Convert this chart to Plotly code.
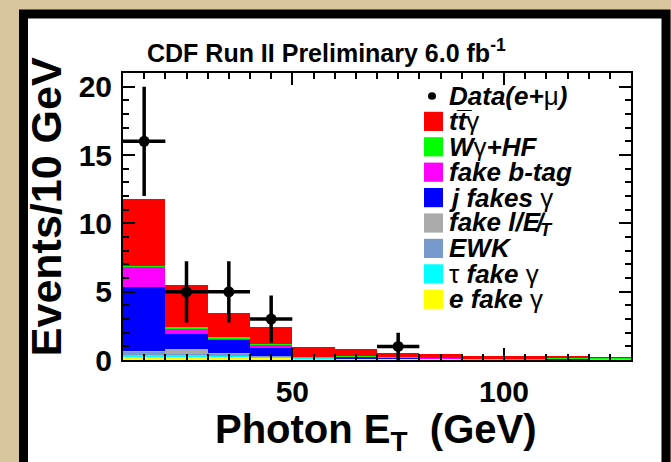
import plotly.graph_objects as go

W, H = 671, 462

# ---------------- data ----------------
bin_centers = [15, 25, 35, 45, 55, 65, 75, 85, 95, 105, 115, 125]
bin_width = 10

# stacked backgrounds, bottom -> top
e_fake_gamma   = [0.30, 0.30, 0.25, 0.20, 0.15, 0.12, 0.12, 0.10, 0.08, 0.05, 0.05, 0.08]
tau_fake_gamma = [0.08, 0.08, 0.08, 0.05, 0.02, 0.02, 0.02, 0.01, 0.01, 0.01, 0.01, 0.01]
ewk            = [0.25, 0.10, 0.15, 0.02, 0.00, 0.00, 0.00, 0.00, 0.00, 0.00, 0.00, 0.00]
fake_l_met     = [0.05, 0.35, 0.05, 0.00, 0.00, 0.00, 0.00, 0.00, 0.00, 0.00, 0.00, 0.00]
j_fakes_gamma  = [4.70, 1.05, 0.95, 0.60, 0.00, 0.10, 0.02, 0.03, 0.00, 0.00, 0.05, 0.00]
fake_btag      = [1.45, 0.45, 0.12, 0.25, 0.02, 0.03, 0.02, 0.03, 0.02, 0.02, 0.02, 0.01]
wgamma_hf      = [0.08, 0.07, 0.06, 0.03, 0.01, 0.01, 0.02, 0.02, 0.01, 0.01, 0.01, 0.08]
ttgamma        = [4.90, 3.10, 1.80, 1.25, 0.80, 0.52, 0.35, 0.25, 0.20, 0.18, 0.15, 0.05]

data_x    = [15, 25, 35, 45, 75]
data_y    = [16, 5, 5, 3, 1]
data_yerr = [4.0, 2.24, 2.24, 1.73, 1.0]
data_xerr = [5, 5, 5, 5, 5]

stack_names = ["e fake γ", "τ fake γ", "EWK", "fake l/MET", "j fakes γ",
               "fake b-tag", "Wγ+HF", "ttγ"]
stack_values = [e_fake_gamma, tau_fake_gamma, ewk, fake_l_met, j_fakes_gamma,
                fake_btag, wgamma_hf, ttgamma]
stack_colors = ["#FFFF00", "#00FFFF", "#7799CC", "#AAAAAA", "#0000FF",
                "#FF00FF", "#00FF00", "#FF0000"]
legend_labels = [
    "<b><i>e fake</i></b> γ",
    "τ<b><i> fake</i></b> γ",
    "<b><i>EWK</i></b>",
    "<b><i>fake l/E\u0338<sub>T</sub></i></b>",
    "<b><i>j fakes</i></b> γ",
    "<b><i>fake b-tag</i></b>",
    "<b><i>W</i></b>γ<b><i>+HF</i></b>",
    "<b><i>tt\u0305</i></b>γ",
]

x_range = [10, 130]
y_range = [0, 21]


def px(x):
    return x / W


def py(y):
    return 1 - y / H


FONT = "Liberation Sans, Arial, Helvetica, sans-serif"

fig = go.Figure()

for name, vals, col in zip(stack_names, stack_values, stack_colors):
    fig.add_trace(go.Bar(
        x=bin_centers, y=vals, width=bin_width, name=name,
        marker=dict(color=col, line=dict(width=0)),
        showlegend=False,
    ))

fig.add_trace(go.Scatter(
    x=data_x, y=data_y, mode="markers", name="Data(e+μ)",
    marker=dict(color="black", size=11),
    error_y=dict(type="data", array=data_yerr, color="black", thickness=3.5, width=0),
    error_x=dict(type="data", array=data_xerr, color="black", thickness=3.5, width=0),
    showlegend=False,
))

shapes = []
annotations = []

# white panel with thick black frame
shapes.append(dict(type="rect", xref="paper", yref="paper",
                   x0=px(23.5), x1=px(666), y0=py(12.5), y1=py(490),
                   line=dict(color="black", width=9), fillcolor="white",
                   layer="below"))

# manual legend (top -> bottom)
leg_x_box0, leg_x_box1 = 424, 443
leg_text_x = 447
row0 = 98
row_step = 26.5
LEG_SIZE = 26
# data entry
shapes.append(dict(type="circle", xref="paper", yref="paper",
                   x0=px(428), x1=px(436), y0=py(row0 + 4), y1=py(row0 - 4),
                   fillcolor="black", line=dict(width=0)))
annotations.append(dict(x=px(leg_text_x), y=py(row0), xref="paper", yref="paper",
                        text="<b><i>Data(e+</i></b>μ<b><i>)</i></b>",
                        showarrow=False, xanchor="left", yanchor="middle",
                        font=dict(family=FONT, size=LEG_SIZE, color="black")))
for i, (lab, col) in enumerate(zip(reversed(legend_labels), reversed(stack_colors))):
    yc = row0 + row_step * (i + 1)
    shapes.append(dict(type="rect", xref="paper", yref="paper",
                       x0=px(leg_x_box0), x1=px(leg_x_box1),
                       y0=py(yc + 10), y1=py(yc - 10),
                       fillcolor=col, line=dict(width=0)))
    annotations.append(dict(x=px(leg_text_x), y=py(yc), xref="paper", yref="paper",
                            text=lab, showarrow=False, xanchor="left", yanchor="middle",
                            font=dict(family=FONT, size=LEG_SIZE, color="black")))

# titles
annotations.append(dict(x=px(326), y=py(51), xref="paper", yref="paper",
                        text="<b>CDF Run II Preliminary 6.0 fb<sup>-1</sup></b>",
                        showarrow=False, xanchor="center", yanchor="middle",
                        font=dict(family=FONT, size=25, color="black")))
annotations.append(dict(x=px(376), y=py(448), xref="paper", yref="paper",
                        text="<b>Photon E<sub>T</sub>\u00a0 (GeV)</b>",
                        showarrow=False, xanchor="center", yanchor="middle",
                        font=dict(family=FONT, size=40, color="black")))
annotations.append(dict(x=px(46), y=py(214), xref="paper", yref="paper",
                        text="<b>Events/10 GeV</b>", textangle=-90,
                        showarrow=False, xanchor="center", yanchor="middle",
                        font=dict(family=FONT, size=43, color="black")))

fig.update_layout(
    width=W, height=H,
    margin=dict(l=0, r=0, t=0, b=0),
    paper_bgcolor="#D9C69C",
    plot_bgcolor="white",
    barmode="stack", bargap=0,
    showlegend=False,
    shapes=shapes,
    annotations=annotations,
    xaxis=dict(
        domain=[px(123), px(631)], range=x_range,
        tick0=0, dtick=50, ticks="inside", ticklen=12, tickwidth=2, tickcolor="black",
        minor=dict(dtick=5, tick0=0, ticks="inside", ticklen=6, tickwidth=1.5, tickcolor="black"),
        showline=True, linewidth=2, linecolor="black", mirror="ticks",
        showgrid=False, zeroline=False, ticklabelstandoff=4,
        tickfont=dict(family=FONT, size=30, color="black", weight="bold"),
    ),
    yaxis=dict(
        domain=[py(373.5), py(74)], range=y_range,
        tick0=0, dtick=5, ticks="inside", ticklen=12, tickwidth=2, tickcolor="black",
        minor=dict(dtick=1, tick0=0, ticks="inside", ticklen=6, tickwidth=1.5, tickcolor="black"),
        showline=True, linewidth=2, linecolor="black", mirror="ticks",
        showgrid=False, zeroline=False, ticklabelstandoff=3,
        tickfont=dict(family=FONT, size=30, color="black", weight="bold"),
    ),
)

fig.write_html("out.html")
